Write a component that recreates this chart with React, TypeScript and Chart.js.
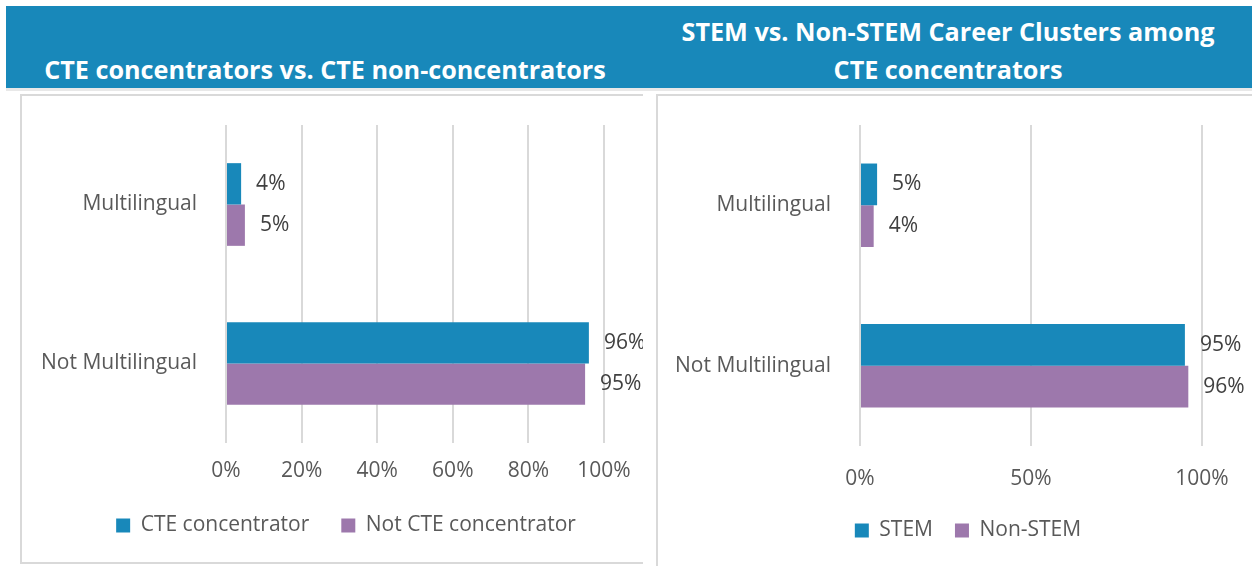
import React, { useEffect, useRef } from "react";
import { Chart, registerables } from "chart.js";

Chart.register(...registerables);

const categories = ["Multilingual", "Not Multilingual"];

const leftTitle = "CTE concentrators vs. CTE non-concentrators";
const leftSeriesNames = ["CTE concentrator", "Not CTE concentrator"];
const cteConcentrator = [4, 96];
const notCteConcentrator = [5, 95];
const leftTickStep = 20;

const rightTitleLines = ["STEM vs. Non-STEM Career Clusters among", "CTE concentrators"];
const rightSeriesNames = ["STEM", "Non-STEM"];
const stemValues = [5, 95];
const nonStemValues = [4, 96];
const rightTickStep = 50;

const BLUE = "#1888BA";
const PURPLE = "#9D78AC";
const FONT = "'Open Sans', 'Noto Sans', sans-serif";
const FS = 21;

const valueLabels = {
  id: "valueLabels",
  afterDatasetsDraw(chart: any) {
    const ctx = chart.ctx;
    ctx.save();
    ctx.font = `${FS}px ${FONT}`;
    ctx.fillStyle = "#404040";
    ctx.textAlign = "left";
    ctx.textBaseline = "middle";
    chart.data.datasets.forEach((ds: any, i: number) => {
      const meta = chart.getDatasetMeta(i);
      meta.data.forEach((el: any, j: number) => {
        ctx.fillText(`${ds.data[j]}%`, el.x + 15, el.y);
      });
    });
    ctx.restore();
  },
};

type Cfg = {
  names: string[];
  a: number[];
  b: number[];
  step: number;
  pad: { left: number; right: number; top: number; bottom: number };
  yWidth: number;
  xHeight: number;
  tickPad: number;
  legendPad: number;
  legendShift: number;
};

function BarPanel({ cfg, width, height }: { cfg: Cfg; width: number; height: number }) {
  const ref = useRef<HTMLCanvasElement>(null);
  useEffect(() => {
    if (!ref.current) return;
    const shiftLegend = {
      id: "shiftLegend",
      afterLayout(chart: any) {
        const lg = chart.legend;
        if (lg) {
          lg.left += cfg.legendShift;
          lg.right += cfg.legendShift;
        }
      },
    };
    const chart = new Chart(ref.current, {
      type: "bar",
      data: {
        labels: categories,
        datasets: [
          {
            label: cfg.names[0],
            data: cfg.a,
            backgroundColor: BLUE,
            borderWidth: 0,
            barPercentage: 1,
            categoryPercentage: 0.52,
          },
          {
            label: cfg.names[1],
            data: cfg.b,
            backgroundColor: PURPLE,
            borderWidth: 0,
            barPercentage: 1,
            categoryPercentage: 0.52,
          },
        ],
      },
      options: {
        indexAxis: "y",
        animation: false,
        responsive: false,
        maintainAspectRatio: false,
        layout: { padding: cfg.pad },
        scales: {
          x: {
            min: 0,
            max: 100,
            ticks: {
              stepSize: cfg.step,
              color: "#595959",
              font: { family: FONT, size: FS },
              padding: cfg.tickPad,
              maxRotation: 0,
              callback: (v: any) => `${v}%`,
            },
            grid: { color: "#D9D9D9", lineWidth: 2, drawTicks: false },
            border: { display: false },
            afterFit: (s: any) => {
              s.height = cfg.xHeight;
              s.paddingLeft = 0;
              s.paddingRight = 0;
            },
          },
          y: {
            ticks: {
              color: "#595959",
              font: { family: FONT, size: FS },
              padding: 29,
            },
            grid: { display: false, drawTicks: false },
            border: { display: false },
            afterFit: (s: any) => {
              s.width = cfg.yWidth;
              s.paddingTop = 0;
              s.paddingBottom = 0;
            },
          },
        },
        plugins: {
          legend: {
            position: "bottom",
            labels: {
              boxWidth: 14,
              boxHeight: 14,
              padding: cfg.legendPad,
              color: "#595959",
              font: { family: FONT, size: FS },
            },
          },
          tooltip: { enabled: false },
          title: { display: false },
        },
      },
      plugins: [valueLabels, shiftLegend],
    } as any);
    return () => chart.destroy();
  }, []);
  return <canvas ref={ref} width={width} height={height} style={{ display: "block", width, height }} />;
}

const leftCfg: Cfg = {
  names: leftSeriesNames,
  a: cteConcentrator,
  b: notCteConcentrator,
  step: leftTickStep,
  pad: { left: 0, right: 39, top: 29, bottom: 16 },
  yWidth: 204,
  xHeight: 40,
  tickPad: 15,
  legendPad: 32,
  legendShift: 33,
};

const rightCfg: Cfg = {
  names: rightSeriesNames,
  a: stemValues,
  b: nonStemValues,
  step: rightTickStep,
  pad: { left: 0, right: 50, top: 29, bottom: 15 },
  yWidth: 202,
  xHeight: 52,
  tickPad: 20,
  legendPad: 22,
  legendShift: 38,
};

const abs = (l: number, t: number, w: number, h: number, extra: any = {}) => ({
  position: "absolute" as const,
  left: l,
  top: t,
  width: w,
  height: h,
  ...extra,
});

export default function App() {
  const titleStyle = {
    color: "#FFFFFF",
    fontFamily: FONT,
    fontWeight: 700,
    fontSize: 25.2,
    lineHeight: "38px",
    textAlign: "center" as const,
    whiteSpace: "nowrap" as const,
  };
  return (
    <div style={{ position: "fixed", left: 0, top: 0, width: 1252, height: 566, background: "#FFFFFF", overflow: "hidden" }}>
      <div style={abs(6, 6, 1246, 82, { background: BLUE })} />
      <div style={abs(6, 88, 1246, 3, { background: "#E8E8E8" })} />
      <div style={abs(6, 50, 638, 38, titleStyle)}>{leftTitle}</div>
      <div style={abs(644, 12, 608, 76, titleStyle)}>
        {rightTitleLines.map((l, i) => (
          <div key={i}>{l}</div>
        ))}
      </div>
      <div style={abs(20, 94, 623, 2, { background: "#D9D9D9" })} />
      <div style={abs(20, 94, 2, 470, { background: "#D9D9D9" })} />
      <div style={abs(20, 562, 623, 2, { background: "#D9D9D9" })} />
      <div style={abs(656, 94, 596, 2, { background: "#D9D9D9" })} />
      <div style={abs(656, 94, 2, 472, { background: "#D9D9D9" })} />
      <div style={abs(22, 96, 621, 466)}>
        <BarPanel cfg={leftCfg} width={621} height={466} />
      </div>
      <div style={abs(658, 96, 594, 470)}>
        <BarPanel cfg={rightCfg} width={594} height={470} />
      </div>
    </div>
  );
}
